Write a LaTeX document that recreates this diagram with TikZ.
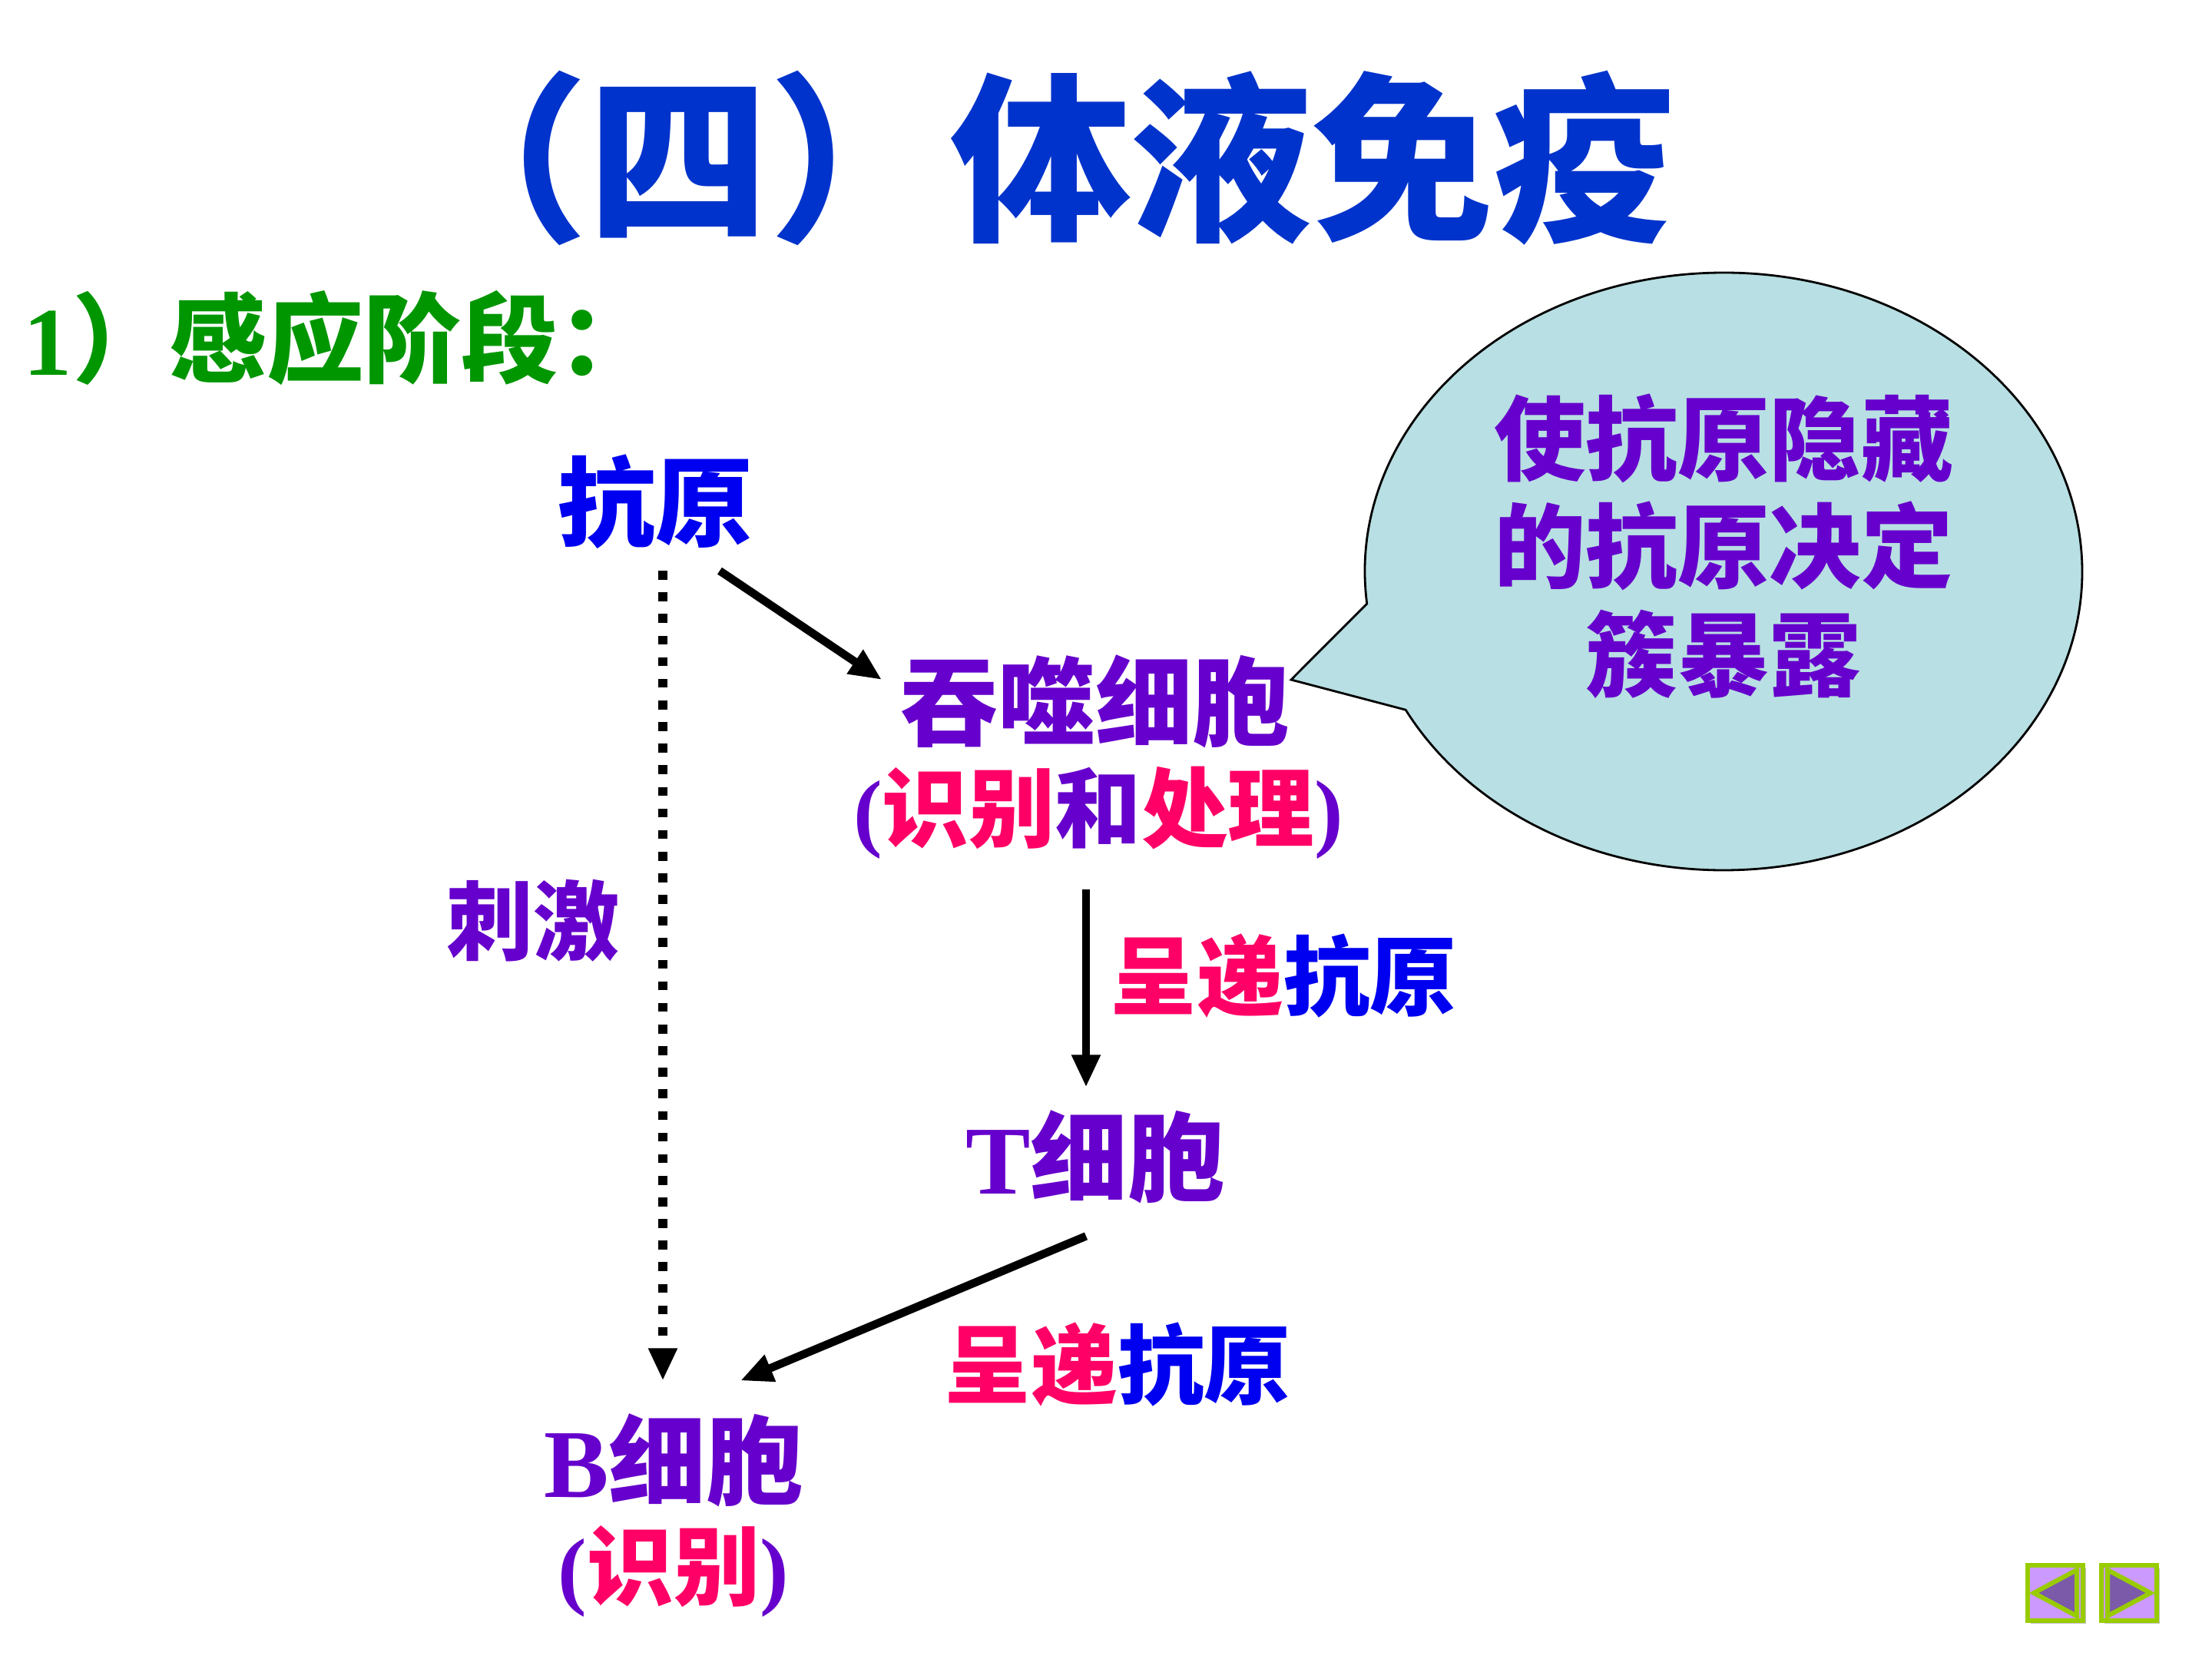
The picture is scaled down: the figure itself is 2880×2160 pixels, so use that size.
\documentclass[tikz,border=0pt]{standalone}
\usepackage{fontspec}
\setmainfont{Liberation Serif}
\newfontfamily\cjk{Noto Sans CJK SC}
\newfontfamily\cjkblack{Noto Sans CJK SC Black}
\usetikzlibrary{arrows.meta}
\definecolor{tblue}{RGB}{0,51,204}
\definecolor{kblue}{RGB}{0,0,240}
\definecolor{hgreen}{RGB}{0,150,0}
\definecolor{purp}{RGB}{102,0,204}
\definecolor{pinkc}{RGB}{255,0,102}
\definecolor{shgray}{RGB}{150,150,150}
\definecolor{callfill}{RGB}{184,223,227}
\definecolor{navgreen}{RGB}{153,204,0}
\definecolor{navfill}{RGB}{204,153,255}
\definecolor{navtri}{RGB}{123,90,170}
\newcommand\zhf{\cjk\bfseries}
\newcommand\latf{\rmfamily\bfseries}
\tikzset{
  big/.style={inner sep=0pt, font=\fontsize{36}{40}\selectfont\zhf},
  mid/.style={inner sep=0pt, font=\fontsize{32}{36}\selectfont\zhf},
  arr/.style={line width=3pt, -{Triangle[length=12pt,width=10pt]}},
  dotarr/.style={line width=3.3pt, dash pattern=on 3.3pt off 4.7pt, -{Triangle[length=12pt,width=10pt]}},
  navbtn/.style={fill=navfill, draw=navgreen, line width=1.7pt},
  navtr/.style={fill=navtri, draw=navgreen, line width=1.7pt, line join=miter},
}
\begin{document}
\begin{tikzpicture}[x=0.01cm, y=-0.01cm]
\useasboundingbox (0,0) rectangle (2880,2160);
\fill[white] (0,0) rectangle (2880,2160);

% title and heading
\node[inner sep=0pt, text=tblue, font=\fontsize{67}{70}\selectfont\cjkblack] (title) at (1355,206) {（四）体液免疫};
\node[inner sep=0pt, anchor=west, text=hgreen, font=\fontsize{36}{40}\selectfont\zhf] (head) at (30,440) {{\latf 1}）感应阶段：};

% callout
\draw[fill=callfill, line width=0.8pt]
  (1681,885) -- ({2244+467*cos(173.8)},{744+389*sin(173.8)})
  arc[start angle=173.8, end angle=512.4, x radius=467, y radius=389]
  -- cycle;
\node[inner sep=0pt, align=center, text=purp, font=\fontsize{34}{40}\selectfont\zhf] (note) at (2244,711)
  {使抗原隐藏\\的抗原决定\\簇暴露};

% main nodes
\node[big, text=kblue] (ky) at (853,653) {抗原};
\node[big, text=purp] (tsxb) at (1426,913) {吞噬细胞};
\node[mid, text=purp] (sub) at (1430,1058) {{\latf(}\textcolor{pinkc}{识别}和\textcolor{pinkc}{处理}{\latf)}};
\node[big, text=purp] (tx) at (1426,1506) {{\latf T}细胞};
\node[big, text=purp] (bx) at (877,1901) {{\latf B}细胞};
\node[mid, text=purp] (bsub) at (877,2046) {{\latf(}\textcolor{pinkc}{识别}{\latf)}};

% labels
\node[mid, text=purp] (cj) at (694,1199) {刺激};
\node[mid, text=pinkc] (l1) at (1671,1271) {呈递\textcolor{kblue}{抗原}};
\node[mid, text=pinkc] (l2) at (1455,1777) {呈递\textcolor{kblue}{抗原}};

% connectors
\draw[arr] ([shift={(84,28)}]ky.south) -- ([shift={(-24,-28)}]tsxb.west);
\draw[dotarr] ([shift={(10,28)}]ky.south) -- ([shift={(-14,-42)}]bx.north);
\draw[arr] ([shift={(-16,39)}]sub.south) -- ([shift={(-12,-29)}]tx.north);
\draw[arr] ([shift={(-12,42)}]tx.south) -- ([shift={(87,-42)}]bx.north);

% navigation buttons
\fill[shgray!60] (2644,2042) rectangle (2716,2114);
\draw[navbtn] (2640,2038) rectangle (2712,2110);
\draw[navtr] (2648,2074) -- (2704,2044) -- (2704,2104) -- cycle;
\fill[shgray!60] (2740,2042) rectangle (2812,2114);
\draw[navbtn] (2736,2038) rectangle (2808,2110);
\draw[navtr] (2744,2044) -- (2744,2104) -- (2800,2074) -- cycle;
\end{tikzpicture}
\end{document}
